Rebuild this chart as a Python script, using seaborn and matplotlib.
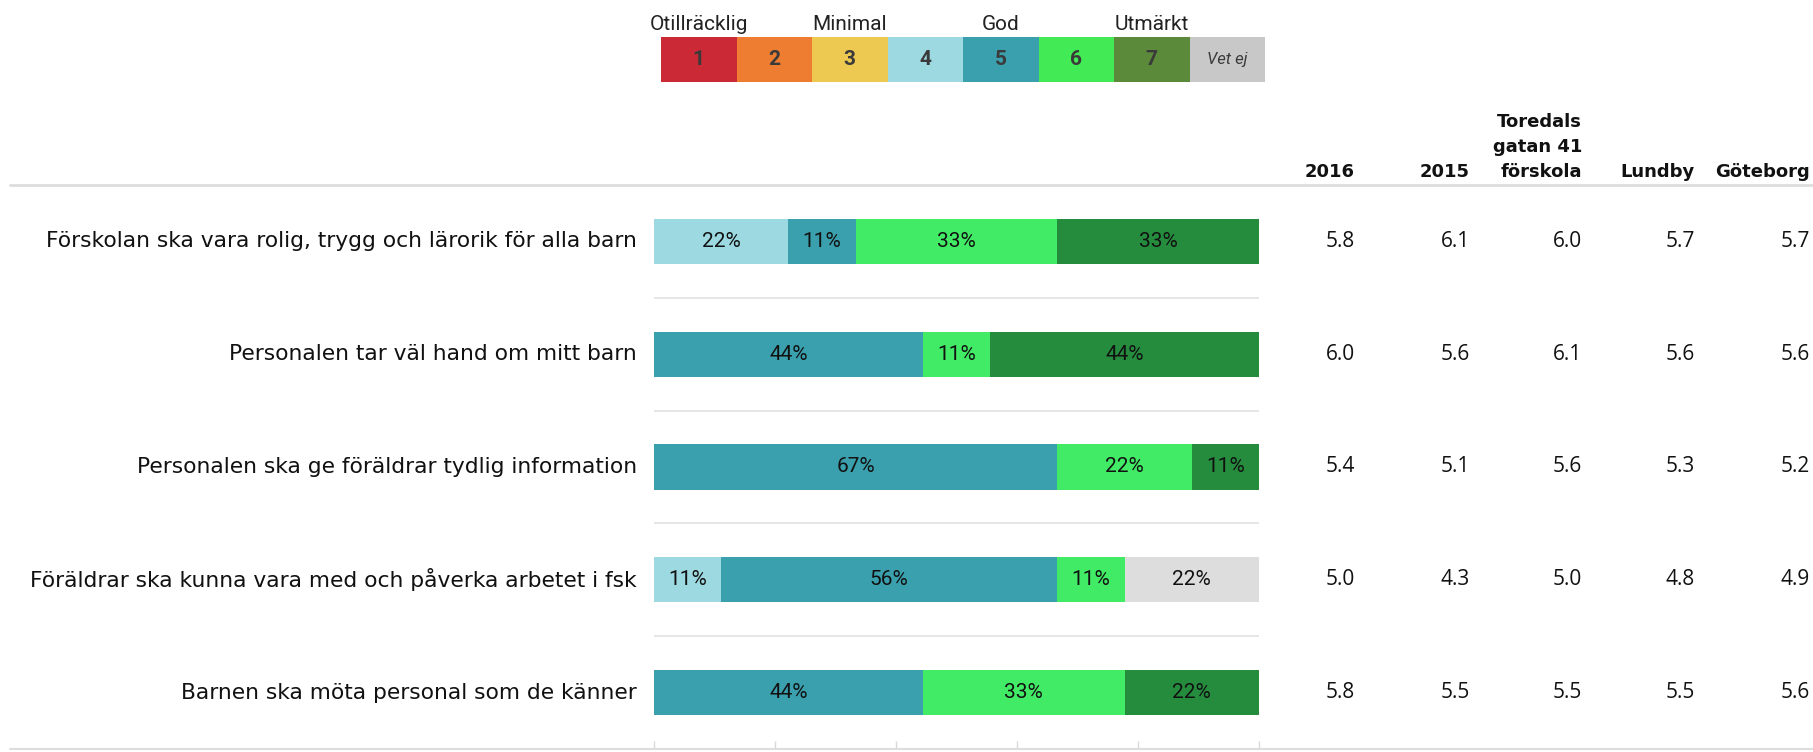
import numpy as np
import pandas as pd
import matplotlib
matplotlib.use("Agg")
import matplotlib.pyplot as plt
from matplotlib.colors import ListedColormap
from matplotlib.lines import Line2D
from matplotlib.transforms import blended_transform_factory
import seaborn as sns

# --- data ---
questions = [
    "Förskolan ska vara rolig, trygg och lärorik för alla barn",
    "Personalen tar väl hand om mitt barn",
    "Personalen ska ge föräldrar tydlig information",
    "Föräldrar ska kunna vara med och påverka arbetet i fsk",
    "Barnen ska möta personal som de känner",
]
respondents = 9
# number of answers per grade (out of 9)
n1 = [0, 0, 0, 0, 0]
n2 = [0, 0, 0, 0, 0]
n3 = [0, 0, 0, 0, 0]
n4 = [2, 0, 0, 1, 0]
n5 = [1, 4, 6, 5, 4]
n6 = [3, 1, 2, 1, 3]
n7 = [3, 4, 1, 0, 2]
n_vetej = [0, 0, 0, 2, 0]

grades = ["1", "2", "3", "4", "5", "6", "7", "Vet ej"]
scale_words = ["Otillräcklig", "Minimal", "God", "Utmärkt"]

col_headers = ["2016", "2015", "Toredals\ngatan 41\nförskola", "Lundby", "Göteborg"]
v2016 = [5.8, 6.0, 5.4, 5.0, 5.8]
v2015 = [6.1, 5.6, 5.1, 4.3, 5.5]
vskola = [6.0, 6.1, 5.6, 5.0, 5.5]
vlundby = [5.7, 5.6, 5.3, 4.8, 5.5]
vgbg = [5.7, 5.6, 5.2, 4.9, 5.6]

legend_colors = ["#CC2936", "#EE7D31", "#EEC952", "#9DD9E0", "#3AA0AD", "#42EB55", "#5B8A3A", "#C8C8C8"]
bar_colors = ["#CC2936", "#EE7D31", "#EEC952", "#9DD9E0", "#3AA0AD", "#42EB66", "#258C3E", "#DDDDDD"]

sns.set_style("white")
plt.rcParams["font.family"] = ["Open Sans", "DejaVu Sans"]

W, H = 1813, 752
fig = plt.figure(figsize=(W / 100, H / 100), dpi=100)

# share table, in percent
df = pd.DataFrame({g: np.array(c) / respondents * 100 for g, c in
                   zip(grades, [n1, n2, n3, n4, n5, n6, n7, n_vetej])})
df["question"] = questions
cum = df[grades].cumsum(axis=1)

# --- main stacked bars ---
x0, x1 = 654, 1259
ytop, ybot = 185, 749
ax = fig.add_axes([x0 / W, 1 - ybot / H, (x1 - x0) / W, (ybot - ytop) / H])
for i in range(len(grades) - 1, -1, -1):
    g = grades[i]
    sns.barplot(x=cum[g], y=df["question"], color=bar_colors[i], orient="h",
                width=0.4, linewidth=0, saturation=1, ax=ax)
ax.set_xlim(0, 100)
ax.set_ylim(4.5, -0.5)
ax.set_xlabel("")
ax.set_ylabel("")
ax.set_yticks([])
ax.set_xticks([0, 20, 40, 60, 80, 100])
ax.set_xticklabels([])
ax.tick_params(axis="x", direction="in", length=6, color="#D9D9D9", width=1, bottom=True)
sns.despine(ax=ax, left=True, top=True, right=True, bottom=True)

# segment labels
for r in range(len(questions)):
    left = 0
    for i, g in enumerate(grades):
        w = df.loc[r, g]
        if w > 0:
            ax.text(left + w / 2, r, f"{round(w)}%", ha="center", va="center",
                    fontsize=15, color="#111111", family=["Roboto", "DejaVu Sans"])
        left += w

# separators between rows
for r in range(len(questions) - 1):
    ax.axhline(r + 0.5, color="#E2E2E2", lw=1.2)

# question labels
trans_q = blended_transform_factory(fig.transFigure, ax.transData)
for r, q in enumerate(questions):
    ax.text(637 / W, r, q, transform=trans_q, ha="right", va="center",
            fontsize=15.7, color="#111111", clip_on=False, family=["DejaVu Sans"])

# value columns
col_x = [1355, 1470, 1582, 1695, 1810]
for cx, vals in zip(col_x, [v2016, v2015, vskola, vlundby, vgbg]):
    for r, v in enumerate(vals):
        ax.text(cx / W, r, f"{v:.1f}", transform=trans_q, ha="right", va="center",
                fontsize=15, color="#111111", clip_on=False)
for cx, h in zip(col_x, col_headers):
    fig.text(cx / W, 1 - 177 / H, h, ha="right", va="baseline", fontsize=13,
             fontweight="bold", color="#111111", linespacing=1.5,
             family=["DejaVu Sans"])

# horizontal rules across the page
fig.add_artist(Line2D([10 / W, 1], [1 - 185 / H] * 2, color="#DDDDDD", lw=2))
fig.add_artist(Line2D([10 / W, 1], [1 - 749 / H] * 2, color="#DDDDDD", lw=1.5))

# --- colour scale legend (1x8 heatmap) ---
lx0, lx1, ly0, ly1 = 661, 1265, 37, 82
lax = fig.add_axes([lx0 / W, 1 - ly1 / H, (lx1 - lx0) / W, (ly1 - ly0) / H])
sns.heatmap(np.arange(len(grades)).reshape(1, -1), cmap=ListedColormap(legend_colors),
            cbar=False, annot=np.array([grades]), fmt="", ax=lax,
            annot_kws={"fontsize": 15, "fontweight": "bold", "color": "#3A3A3A",
                       "family": ["Roboto", "DejaVu Sans"]},
            xticklabels=False, yticklabels=False)
for t in lax.texts:
    if t.get_text() == "Vet ej":
        t.set_fontstyle("italic")
        t.set_fontweight("normal")
        t.set_fontsize(12)
for k, word in enumerate(scale_words):
    lax.text(2 * k + 0.5, -0.06, word, ha="center", va="bottom", fontsize=15,
             color="#222222", family=["Roboto", "DejaVu Sans"])

fig.savefig("out.png", dpi=100)
